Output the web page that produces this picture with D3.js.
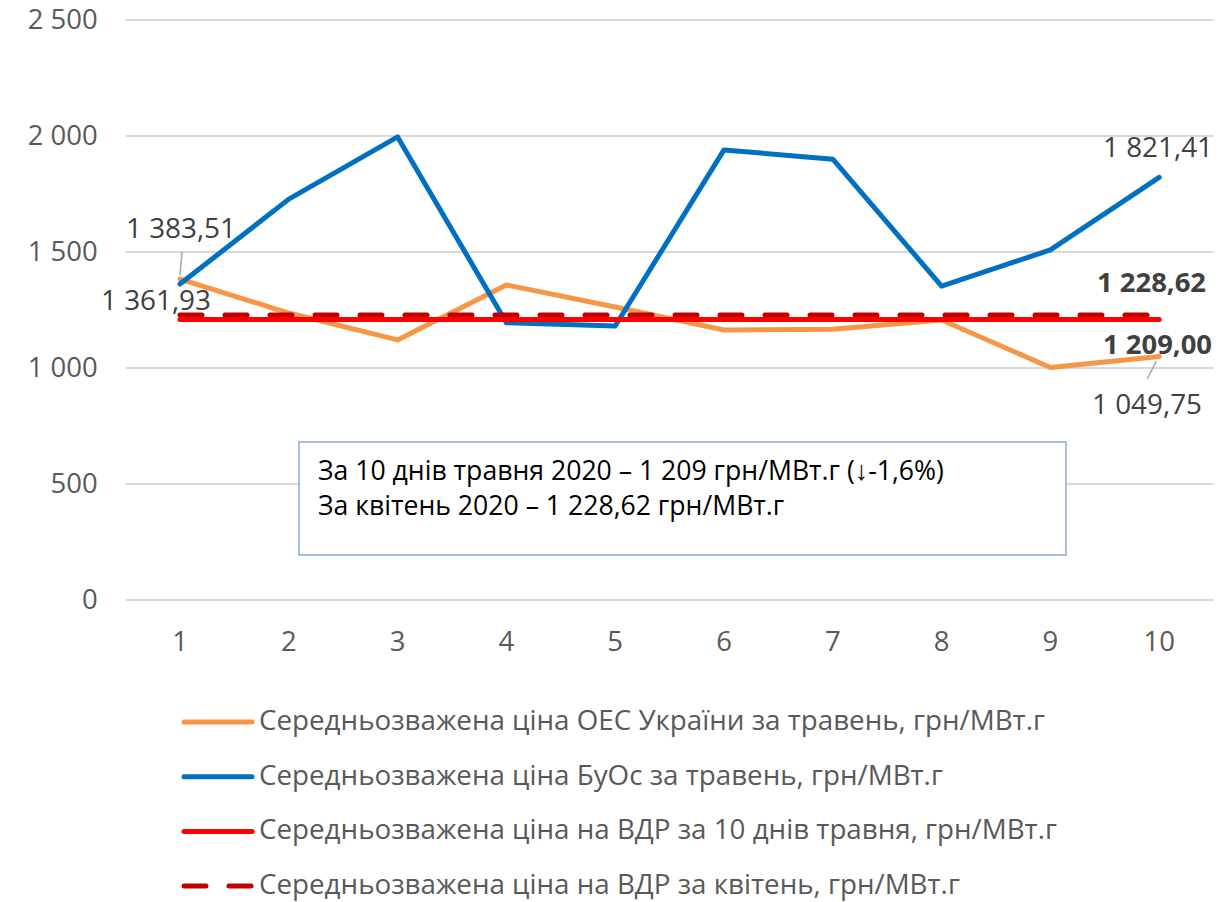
<!DOCTYPE html>
<html><head><meta charset="utf-8">
<script src="https://cdn.jsdelivr.net/npm/d3@7"></script>
<style>body{margin:0;background:#fff}svg{display:block}</style>
</head><body>
<svg id="c" width="1224" height="902"></svg>
<script>
const days = [1,2,3,4,5,6,7,8,9,10];
const oes = [1383.51,1237,1121,1358,1263,1164,1167,1207,1002,1049.75];
const buos = [1361.93,1728,1996,1195,1181,1940,1900,1353,1509,1821.41];
const vdrMay = [1209,1209,1209,1209,1209,1209,1209,1209,1209,1209];
const vdrApr = [1228.62,1228.62,1228.62,1228.62,1228.62,1228.62,1228.62,1228.62,1228.62,1228.62];
const yTicks = [0,500,1000,1500,2000,2500];
const legendNames = [
 "Середньозважена ціна ОЕС України за травень, грн/МВт.г",
 "Середньозважена ціна БуОс за травень, грн/МВт.г",
 "Середньозважена ціна на ВДР за 10 днів травня, грн/МВт.г",
 "Середньозважена ціна на ВДР за квітень, грн/МВт.г"];
const boxLines = ["За 10 днів травня 2020 – 1 209 грн/МВт.г (↓-1,6%)","За квітень 2020 – 1 228,62 грн/МВт.г"];

const svg = d3.select("#c");
const font = "'Open Sans', sans-serif";
const narrow = "'Liberation Sans Narrow', 'Open Sans', sans-serif";
function fit(sel, target){ const w = sel.node().getComputedTextLength(); const fs = parseFloat(sel.attr("font-size")); return fs*target/w; }

const x = d3.scaleBand().domain(days).range([125.6,1213.6]);
const y = d3.scaleLinear().domain([0,2500]).range([600,20]);
const cx = d => x(d)+x.bandwidth()/2;
const fmt = v => { const s = v.toFixed(2).replace(".",","); const [a,b]=s.split(","); return a.replace(/\B(?=(\d{3})+(?!\d))/g," ")+","+b; };

const probe = svg.append("text").attr("font-family",font).attr("font-size",20).text("2 500");
const tickFS = fit(probe, 70);
probe.text(fmt(1383.51)); const lblFS = fit(probe, 110);
probe.text(legendNames[0]); const legFS = fit(probe, 786);
probe.attr("font-weight","bold").text(fmt(1228.62)); const boldFS = fit(probe, 109);
probe.attr("font-weight",null).attr("font-family",narrow).text(boxLines[0]); const boxFS = fit(probe, 626);
probe.remove();

svg.append("g").selectAll("line").data(yTicks).join("line")
 .attr("x1",125.6).attr("x2",1213.6).attr("y1",d=>y(d)).attr("y2",d=>y(d))
 .attr("stroke","#d9d9d9").attr("stroke-width",2);
const yAxis = svg.append("g").attr("transform","translate(125.6,0)")
 .call(d3.axisLeft(y).tickValues(yTicks).tickSize(0).tickPadding(28).tickFormat(d=>d3.format(",")(d).replace(/,/g," ")));
yAxis.select(".domain").remove();
yAxis.selectAll("text").attr("font-family",font).attr("font-size",tickFS).attr("fill","#595959");
const xAxis = svg.append("g").attr("transform","translate(0,600)").call(d3.axisBottom(x).tickSize(0).tickPadding(31));
xAxis.select(".domain").remove();
xAxis.selectAll("text").attr("font-family",font).attr("font-size",tickFS).attr("fill","#595959");

svg.append("rect").attr("x",299).attr("y",442).attr("width",767).attr("height",113)
 .attr("fill","#fff").attr("stroke","#8eaadb").attr("stroke-width",1.5);
svg.append("g").selectAll("text").data(boxLines).join("text")
 .attr("x",318).attr("y",(d,i)=>480+i*35).text(d=>d)
 .attr("font-family",narrow).attr("font-size",boxFS).attr("fill","#000");

const line = d3.line().x((d,i)=>cx(days[i])).y(d=>y(d));
const series = [
 {v:oes,c:"#f79646",dash:null},
 {v:buos,c:"#0070c0",dash:null},
 {v:vdrMay,c:"#ff0000",dash:null},
 {v:vdrApr,c:"#c00000",dash:"22 23"}];
[0,1,3,2].forEach(k=>{
 const s = series[k];
 svg.append("path").attr("d",line(s.v)).attr("fill","none").attr("stroke",s.c)
  .attr("stroke-width",5).attr("stroke-linecap","round").attr("stroke-linejoin","round")
  .attr("stroke-dasharray",s.dash);
});

svg.append("line").attr("x1",cx(1)).attr("y1",y(oes[0])-4).attr("x2",cx(1)+2).attr("y2",252).attr("stroke","#a6a6a6").attr("stroke-width",1.5);
svg.append("line").attr("x1",cx(10)-3).attr("y1",y(oes[9])+5).attr("x2",cx(10)-12).attr("y2",379).attr("stroke","#a6a6a6").attr("stroke-width",1.5);

const labels = [
 {t:fmt(oes[0]),x:126,y:238,a:"start",b:false},
 {t:fmt(buos[0]),x:101,y:310,a:"start",b:false},
 {t:fmt(buos[9]),x:1213,y:157,a:"end",b:false},
 {t:fmt(vdrApr[9]),x:1206,y:292,a:"end",b:true},
 {t:fmt(vdrMay[9]),x:1212,y:354,a:"end",b:true},
 {t:fmt(oes[9]),x:1202,y:414,a:"end",b:false}];
svg.append("g").selectAll("text").data(labels).join("text")
 .attr("x",d=>d.x).attr("y",d=>d.y).attr("text-anchor",d=>d.a).text(d=>d.t)
 .attr("font-family",font).attr("font-size",d=>d.b?boldFS:lblFS).attr("font-weight",d=>d.b?"bold":"normal")
 .attr("fill","#404040");

const lg = svg.append("g");
legendNames.forEach((n,i)=>{
 const yy = 722 + i*54.7;
 const s = series[i];
 lg.append("line").attr("x1",184).attr("x2",252).attr("y1",yy).attr("y2",yy)
  .attr("stroke",s.c).attr("stroke-width",5).attr("stroke-linecap","round")
  .attr("stroke-dasharray",s.dash?"22 23":null);
 lg.append("text").attr("x",259).attr("y",yy+8).text(n)
  .attr("font-family",font).attr("font-size",legFS).attr("fill","#595959");
});
</script>
</body></html>
